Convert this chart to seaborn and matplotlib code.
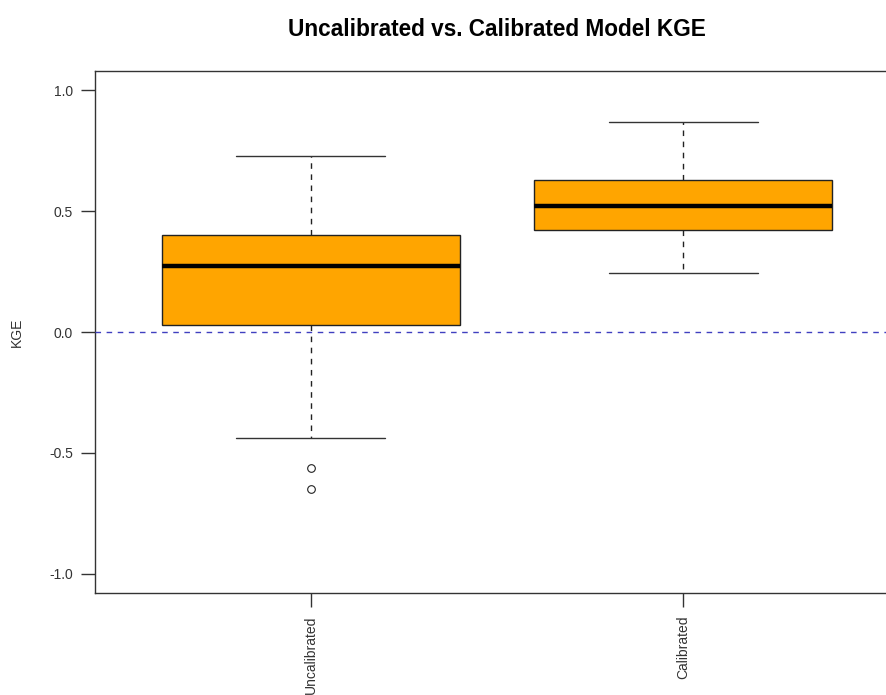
import pandas as pd
import numpy as np
import matplotlib
matplotlib.use('Agg')
import matplotlib.pyplot as plt
import seaborn as sns

categories = ['Uncalibrated', 'Calibrated']
kge_uncalibrated = [-0.648, -0.561, -0.44, 0.029, 0.15, 0.22, 0.274,
                    0.33, 0.37, 0.403, 0.55, 0.65, 0.727]
kge_calibrated = [0.245, 0.33, 0.424, 0.48, 0.523, 0.58, 0.631, 0.75, 0.868]
y_ticks = [-1.0, -0.5, 0.0, 0.5, 1.0]
y_tick_labels = ['-1.0', '-0.5', '0.0', '0.5', '1.0']

df = pd.DataFrame({
    'model': ['Uncalibrated'] * len(kge_uncalibrated) + ['Calibrated'] * len(kge_calibrated),
    'kge': kge_uncalibrated + kge_calibrated,
})

sns.set_style('ticks')
plt.rcParams['font.family'] = ['Liberation Sans', 'DejaVu Sans']
plt.rcParams['axes.unicode_minus'] = False

W, H = 887, 695
fig = plt.figure(figsize=(W / 100, H / 100), dpi=100)
# plot region like R's default device; right edge runs past the image
ax = fig.add_axes([95 / W, (H - 593) / H, (899 - 95) / W, (593 - 71) / H])

sns.boxplot(data=df, x='model', y='kge', order=categories, ax=ax,
            color='#FFA500', saturation=1, width=0.8, linecolor='#222222',
            linewidth=1,
            whiskerprops=dict(linestyle=(0, (4, 4)), color='#222222'),
            capprops=dict(color='#333333'),
            medianprops=dict(linewidth=3.2, color='black'),
            flierprops=dict(marker='o', markerfacecolor='none',
                            markeredgecolor='#222222', markersize=5.5,
                            markeredgewidth=0.8))

ax.axhline(0, color='#4040c0', linestyle=(0, (4, 4)), linewidth=1, zorder=5)

ax.set_xlim(-0.58, 1.58)
ax.set_ylim(-1.08, 1.08)
ax.set_yticks(y_ticks)
ax.set_yticklabels(y_tick_labels)
ax.tick_params(axis='both', length=10, width=1, color='#333333',
               labelsize=10, labelcolor='#333333', pad=6)
ax.tick_params(axis='x', labelrotation=90)
ax.set_xlabel('')
ax.set_ylabel('KGE', fontsize=10, labelpad=18, color='#333333')

for side in ['left', 'top', 'bottom', 'right']:
    ax.spines[side].set_visible(True)
    ax.spines[side].set_color('#333333')
    ax.spines[side].set_linewidth(1)

fig.text((95 + 899) / 2 / W, 1 - 29 / H, 'Uncalibrated vs. Calibrated Model KGE',
         ha='center', va='center', fontsize=16.3, fontweight='bold', color='black')

fig.savefig('out.png', dpi=100)
